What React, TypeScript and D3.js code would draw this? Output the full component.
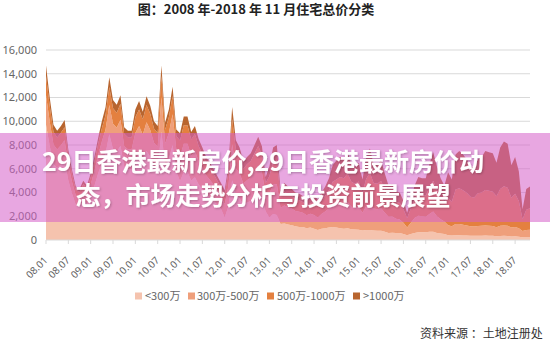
import React from "react";
import * as d3 from "d3";

const W = 550;
const H = 356;

const title = "图：2008 年-2018 年 11 月住宅总价分类";
const source = "资料来源 ：土地注册处";
const overlayLines = ["29日香港最新房价,29日香港最新房价动", "态，市场走势分析与投资前景展望"];

const tickLabels = [
  "08.01", "08.07", "09.01", "09.07", "10.01", "10.07", "11.01", "11.07",
  "12.01", "12.07", "13.01", "13.07", "14.01", "14.07", "15.01", "15.07",
  "16.01", "16.07", "17.01", "17.07", "18.01", "18.07",
];
const yTicks = [0, 2000, 4000, 6000, 8000, 10000, 12000, 14000, 16000];

const seriesNames = ["<300万", "300万-500万", "500万-1000万", ">1000万"];
const seriesColors = ["#F5C3AE", "#EF9F7B", "#E4803F", "#B8652F"];

// monthly, 2008.01 .. 2018.11
const under300 = [
  9700, 7920, 6400, 6070, 6340, 6670, 5020, 3890, 2970, 2840, 3300, 3040,
  3640, 4550, 5590, 6500, 7280, 8900, 7670, 7410, 7930, 6180, 5980, 5980,
  6820, 7250, 6700, 7500, 7010, 6200, 5950, 9110, 6140, 6820, 8000, 5770,
  4950, 5720, 5720, 5010, 5280, 4680, 4290, 3850, 3580, 3300, 2970, 2640,
  1890, 2840, 5040, 3780, 3510, 2970, 3150, 3290, 3600, 3920, 3560, 2390,
  1900, 2200, 2100, 1350, 1400, 1300, 1250, 1150, 1100, 1100, 1000, 1050,
  950, 850, 950, 1000, 1050, 1100, 1050, 1000, 950, 1000, 900, 880,
  870, 800, 850, 850, 800, 780, 780, 700, 600, 620, 600, 580,
  500, 400, 500, 600, 650, 650, 650, 700, 700, 600, 550, 500,
  400, 380, 400, 400, 380, 370, 350, 350, 360, 360, 370, 360,
  350, 320, 340, 350, 340, 300, 310, 280, 230, 250, 250,
];
const from300to500 = [
  2500, 2040, 1650, 1560, 1630, 1720, 1290, 1000, 770, 730, 850, 780,
  1010, 1260, 1550, 1800, 2020, 2470, 2120, 2050, 2200, 1710, 1660, 1660,
  2200, 2340, 2160, 2420, 2260, 2000, 1920, 2940, 1980, 2200, 2580, 1860,
  2070, 2390, 2390, 2090, 2210, 1960, 1790, 1610, 1500, 1380, 1240, 1100,
  1130, 1700, 3020, 2270, 2110, 1780, 1890, 1970, 2160, 2350, 2130, 1430,
  1980, 2500, 2600, 1350, 1500, 1450, 1400, 1300, 1280, 1200, 1080, 1170,
  1150, 1050, 1250, 1400, 1600, 1900, 2000, 2100, 2050, 2200, 1900, 1850,
  1900, 1500, 2000, 2200, 1850, 1800, 1900, 1600, 1350, 1350, 1200, 1150,
  950, 650, 950, 1250, 1400, 1350, 1300, 1500, 1700, 1400, 1200, 1050,
  850, 780, 950, 950, 900, 850, 800, 780, 820, 830, 850, 840,
  820, 760, 850, 880, 860, 750, 780, 700, 520, 600, 620,
];
const from500to1000 = [
  1620, 1320, 1070, 1010, 1060, 1110, 840, 650, 500, 470, 550, 510,
  620, 770, 950, 1100, 1230, 1510, 1300, 1250, 1340, 1050, 1010, 1010,
  1320, 1400, 1300, 1450, 1360, 1200, 1150, 1760, 1190, 1320, 1550, 1120,
  1350, 1560, 1560, 1370, 1440, 1280, 1170, 1050, 980, 900, 810, 720,
  800, 1200, 2130, 1600, 1480, 1250, 1330, 1390, 1520, 1650, 1500, 1010,
  1490, 1900, 2000, 1000, 1200, 1100, 1050, 1000, 970, 900, 800, 880,
  1100, 1000, 1150, 1300, 1550, 1900, 2050, 2200, 2200, 2400, 2100, 2000,
  2150, 1700, 2300, 2600, 2150, 2150, 2300, 1900, 1600, 1650, 1400, 1400,
  1150, 800, 1200, 1600, 1850, 1800, 1800, 2200, 2600, 2200, 1850, 1650,
  2300, 2050, 2900, 3000, 2900, 2750, 2500, 2450, 2750, 2800, 3000, 2950,
  2900, 2600, 3100, 3300, 3200, 2500, 2800, 2300, 1000, 1700, 1800,
];
const over1000 = [
  880, 720, 580, 560, 570, 600, 450, 360, 260, 260, 300, 270,
  330, 420, 510, 600, 670, 820, 710, 690, 730, 560, 550, 550,
  660, 710, 640, 730, 670, 600, 580, 890, 590, 660, 770, 550,
  630, 730, 730, 630, 670, 580, 550, 490, 440, 420, 380, 340,
  380, 560, 1010, 750, 700, 600, 630, 650, 720, 780, 710, 470,
  830, 1200, 1300, 500, 700, 650, 600, 550, 550, 500, 420, 500,
  600, 500, 650, 800, 1000, 1400, 1600, 1700, 1700, 1800, 1500, 1470,
  1580, 1100, 1750, 2050, 1600, 1570, 1720, 1400, 1050, 1080, 900, 870,
  700, 450, 750, 1150, 1400, 1400, 1450, 2000, 2400, 2000, 1600, 1400,
  2150, 1890, 2950, 3150, 3020, 2830, 2550, 2520, 2870, 3010, 3280, 3250,
  3230, 2820, 3510, 3770, 3700, 2750, 3110, 2520, 850, 1750, 1830,
];

const seriesData = [under300, from300to500, from500to1000, over1000];
const keys = ["s0", "s1", "s2", "s3"];

const rows = under300.map((_, i) => {
  const r: any = { i };
  keys.forEach((k, j) => (r[k] = seriesData[j][i]));
  return r;
});

const left = 46;
const right = 530;
const top = 50;
const bottom = 240;

export default function App() {
  const n = rows.length;
  const x = d3.scaleLinear().domain([0, n - 1]).range([left, right]);
  const y = d3.scaleLinear().domain([0, 16000]).range([bottom, top]);
  const stacked = d3.stack<any>().keys(keys)(rows);
  const area = d3
    .area<any>()
    .x((d) => x(d.data.i))
    .y0((d) => y(d[0]))
    .y1((d) => y(d[1]));

  const legendItems = [
    { sx: 135, tx: 145 },
    { sx: 188, tx: 197 },
    { sx: 267, tx: 277 },
    { sx: 353, tx: 363 },
  ];

  const cjk = "'Noto Sans CJK SC', 'Noto Sans', sans-serif";
  const latin = "'Noto Sans', 'Noto Sans CJK SC', sans-serif";

  return (
    <svg
      width={W}
      height={H}
      viewBox={`0 0 ${W} ${H}`}
      style={{ position: "absolute", left: 0, top: 0, background: "#fff" }}
    >
      <defs>
        <filter id="ts" x="-10%" y="-30%" width="120%" height="160%">
          <feDropShadow dx="1" dy="1" stdDeviation="1" floodColor="#000" floodOpacity="0.25" />
        </filter>
      </defs>
      <rect x={0} y={0} width={W} height={H} fill="#fff" />
      <text
        x={256}
        y={14}
        textAnchor="middle"
        fontFamily={cjk}
        fontWeight={700}
        fontSize={13}
        fill="#222"
      >
        {title}
      </text>

      {yTicks.map((t) => (
        <g key={t}>
          {t > 0 && (
            <line x1={left} x2={right} y1={y(t)} y2={y(t)} stroke="#D9D9D9" strokeWidth={1} />
          )}
          <text
            x={37}
            y={y(t)}
            dy="0.35em"
            textAnchor="end"
            fontFamily={latin}
            fontSize={11}
            fill="#666"
          >
            {d3.format(",")(t)}
          </text>
        </g>
      ))}

      {stacked.map((s, j) => (
        <path key={s.key} d={area(s) || ""} fill={seriesColors[j]} />
      ))}

      <line x1={left} x2={right} y1={bottom} y2={bottom} stroke="#D9D9D9" strokeWidth={1} />
      {tickLabels.map((lab, k) => {
        const tx = x(k * 6);
        return (
          <g key={lab}>
            <line x1={tx} x2={tx} y1={bottom} y2={bottom + 4} stroke="#D9D9D9" strokeWidth={1} />
            <text
              transform={`translate(${tx + 2.3},${bottom + 21}) rotate(-45)`}
              textAnchor="end"
              fontFamily={latin}
              fontSize={10}
              fill="#666"
            >
              {lab}
            </text>
          </g>
        );
      })}

      {legendItems.map((it, j) => (
        <g key={j}>
          <rect x={it.sx} y={292.5} width={7} height={7} fill={seriesColors[j]} />
          <text x={it.tx} y={300} fontFamily={cjk} fontSize={11} fill="#666">
            {seriesNames[j]}
          </text>
        </g>
      ))}

      <text x={420} y={338} fontFamily={cjk} fontSize={12} fill="#333">
        {source}
      </text>

      <rect x={0} y={133} width={W} height={89} fill="#D55FC8" fillOpacity={0.55} />
      <g filter="url(#ts)">
        <text
          x={263}
          y={171}
          textAnchor="middle"
          fontFamily={cjk}
          fontWeight={700}
          fontSize={25}
          fill="#fff"
        >
          {overlayLines[0]}
        </text>
        <text
          x={263}
          y={205}
          textAnchor="middle"
          fontFamily={cjk}
          fontWeight={700}
          fontSize={25}
          fill="#fff"
        >
          {overlayLines[1]}
        </text>
      </g>
    </svg>
  );
}
